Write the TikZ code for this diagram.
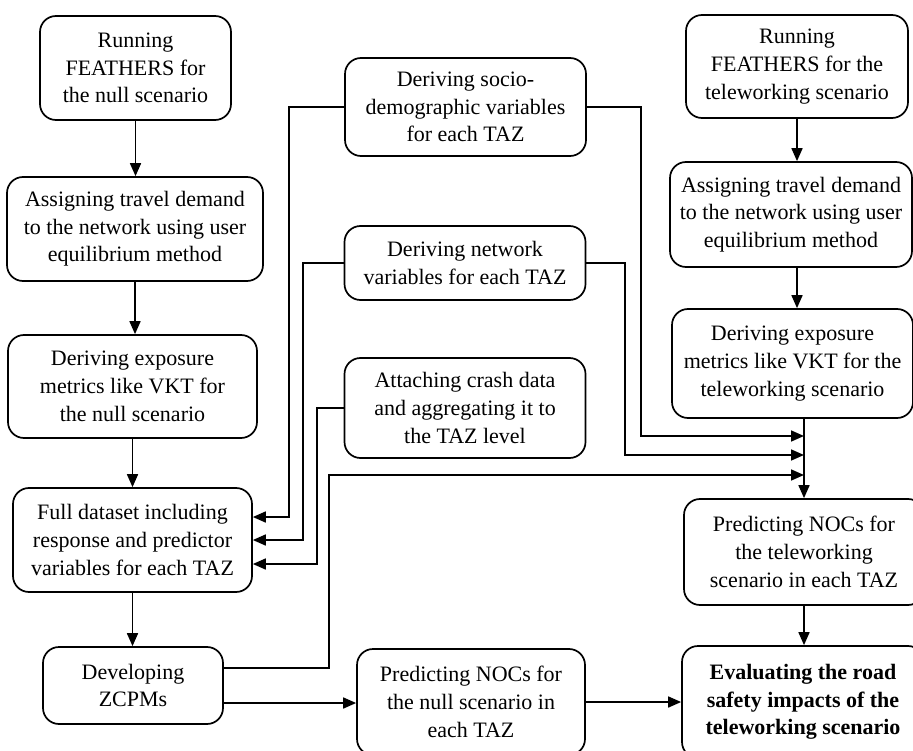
\documentclass[tikz,border=0pt]{standalone}
\usepackage{fontspec}
\setmainfont{Liberation Serif}
\usetikzlibrary{arrows.meta}
\begin{document}
\begin{tikzpicture}[x=1pt,y=-1pt,
  box/.style={draw, line width=1.7pt, rounded corners=16pt, align=center, inner sep=0pt,
     font=\fontsize{22}{27.7}\selectfont},
  arr/.style={line width=1.7pt, -{Triangle[length=13pt,width=11pt]}}]
\useasboundingbox (0,0) rectangle (913,751);
\fill[white] (0,0) rectangle (913,751);
\clip (0,0) rectangle (913,751);
% left column
\node[box, minimum width=191pt, minimum height=104pt] (b1) at (135.5,68) {Running\\FEATHERS for\\the null scenario};
\node[box, minimum width=256pt, minimum height=104pt] (b2) at (135,229) {Assigning travel demand\\to the network using user\\equilibrium method};
\node[box, minimum width=249pt, minimum height=103pt] (b3) at (132.5,386.5) {Deriving exposure\\metrics like VKT for\\the null scenario};
\node[box, minimum width=239pt, minimum height=104pt] (b4) at (132.5,540) {Full dataset including\\response and predictor\\variables for each TAZ};
\node[box, minimum width=180pt, minimum height=77pt] (b5) at (133,685.5) {Developing\\ZCPMs};
% middle column
\node[box, minimum width=241pt, minimum height=98pt] (b6) at (465.5,107) {Deriving socio-\\demographic variables\\for each TAZ};
\node[box, minimum width=241pt, minimum height=74pt] (b7) at (465,263) {Deriving network\\variables for each TAZ};
\node[box, minimum width=241pt, minimum height=100pt] (b8) at (465,408) {Attaching crash data\\and aggregating it to\\the TAZ level};
\node[box, minimum width=228pt, minimum height=106pt] (b9) at (471,702) {Predicting NOCs for\\the null scenario in\\each TAZ};
% right column
\node[box, minimum width=222pt, minimum height=103pt] (b10) at (797,66.5) {Running\\FEATHERS for the\\teleworking scenario};
\node[box, minimum width=242pt, minimum height=105pt] (b11) at (791,214.5) {Assigning travel demand\\to the network using user\\equilibrium method};
\node[box, minimum width=241pt, minimum height=109pt] (b12) at (792.5,363.5) {Deriving exposure\\metrics like VKT for the\\teleworking scenario};
\node[box, minimum width=240pt, minimum height=106pt] (b13) at (804,552) {Predicting NOCs for\\the teleworking\\scenario in each TAZ};
\node[box, minimum width=242pt, minimum height=112pt, font=\fontsize{22}{27.7}\selectfont\bfseries] (b14) at (803,702) {Evaluating the road\\safety impacts of the\\teleworking scenario};
% left column arrows
\draw[arr] (b1.south) -- (b1.south |- b2.north);
\draw[arr] (b2.south) -- (b2.south |- b3.north);
\draw[arr] (b3.south) -- (b3.south |- b4.north);
\draw[arr] (b4.south) -- (b4.south |- b5.north);
% middle to full dataset
\draw[arr] (b6.west) -| (289,517) -- (b4.east |- 0,517);
\draw[arr] (b7.west) -| (303,540) -- (b4.east |- 0,540);
\draw[arr] (b8.west) -| (317,564) -- (b4.east |- 0,564);
% right column arrows
\draw[arr] (b10.south) -- (b10.south |- b11.north);
\draw[arr] (b11.south -| b10.south) -- (b10.south |- b12.north);
\draw[arr] (b12.south -| b13.north) -- (b13.north);
\draw[arr] (b13.south) -- (b13.south |- b14.north);
% merge arrows
\draw[arr] (b6.east) -| (641,436) -- (b13.north |- 0,436);
\draw[arr] (b7.east) -| (625,455) -- (b13.north |- 0,455);
\draw[arr] (b5.east |- 0,668) -| (329,475) -- (b13.north |- 0,475);
% bottom row
\draw[arr] (b5.east |- 0,703) -- (b9.west |- 0,703);
\draw[arr] (b9.east) -- (b9.east -| b14.west);
\end{tikzpicture}
\end{document}
